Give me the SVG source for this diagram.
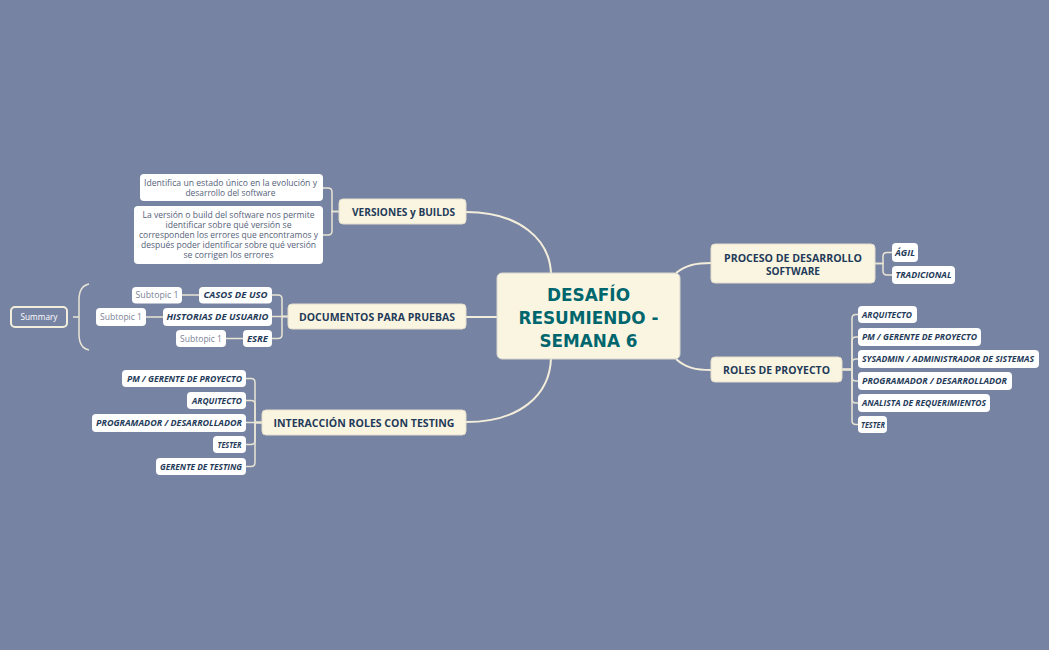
<svg xmlns="http://www.w3.org/2000/svg" width="1049" height="650" viewBox="0 0 1049 650">
<style>
.bg{fill:#7783a2}
.mainbox{fill:#faf5e1;stroke:#e4dfcc;stroke-width:1}
.centerbox{fill:#faf5e1;stroke:#d8d6d0;stroke-width:1}
.subbox{fill:#ffffff}
.mt{font-family:"Open Sans","Liberation Sans",sans-serif;font-weight:bold;font-size:11px;fill:#1f3b59;text-anchor:middle}
.ct{font-family:"DejaVu Sans","Open Sans",sans-serif;font-weight:bold;font-size:17px;fill:#00666e;text-anchor:middle}
.st{font-family:"Open Sans","Liberation Sans",sans-serif;font-weight:bold;font-style:italic;font-size:8.8px;fill:#1f3b59;text-anchor:middle}
.nt{font-family:"Open Sans","Liberation Sans",sans-serif;font-size:8.5px;fill:#56627a;text-anchor:middle}
.sp{font-family:"Open Sans","Liberation Sans",sans-serif;font-size:8.5px;fill:#7a8295;text-anchor:middle}
.conn{fill:none;stroke:#f3eedb;stroke-width:2}
.br{fill:none;stroke:#e9e5d6;stroke-width:1.5}
</style>
<rect class="bg" x="0" y="0" width="1049" height="650"/>

<g id="connectors">
  <path class="conn" d="M466,212 C520,212 550,240 551,274"/>
  <path class="conn" d="M466,317 H498"/>
  <path class="conn" d="M466,422 C520,422 550,395 551,358"/>
  <path class="conn" d="M676,273 C686,265 696,263 711,263"/>
  <path class="conn" d="M676,359 C686,368 696,370 711,370"/>
  <path class="br" d="M339,211.5 H332 V192 Q332,188 328,188 H323"/>
  <path class="br" d="M339,211.5 H332 V231 Q332,235 328,235 H323"/>
  <path class="br" d="M288,316.5 H282 V299 Q282,295 278,295 H272"/>
  <path class="br" d="M288,316.5 H272"/>
  <path class="br" d="M288,316.5 H282 V334.5 Q282,338.5 278,338.5 H272"/>
  <path class="br" d="M199,295 H182"/>
  <path class="br" d="M163,317 H146"/>
  <path class="br" d="M243,338.5 H226"/>
  <path class="br" d="M89,284 Q79,286 79,300 V334 Q79,348 89,350"/>
  <path class="br" d="M73,317 H79"/>
  <path class="br" d="M262,422.5 H255 V382.5 Q255,378.5 251,378.5 H246"/>
  <path class="br" d="M262,422.5 H255 V404.5 Q255,400.5 251,400.5 H246"/>
  <path class="br" d="M262,422.5 H246"/>
  <path class="br" d="M262,422.5 H255 V440.5 Q255,444.5 251,444.5 H246"/>
  <path class="br" d="M262,422.5 H255 V462.5 Q255,466.5 251,466.5 H246"/>
  <path class="br" d="M875,263.5 H883 V256.5 Q883,252.5 887,252.5 H892"/>
  <path class="br" d="M875,263.5 H883 V271 Q883,275 887,275 H892"/>
  <path class="br" d="M842,369.5 H852 V318.5 Q852,314.5 856,314.5 H858"/>
  <path class="br" d="M842,369.5 H852 V341 Q852,337 856,337 H858"/>
  <path class="br" d="M842,369.5 H852 V363 Q852,359 856,359 H858"/>
  <path class="br" d="M842,369.5 H852 V377 Q852,381 856,381 H858"/>
  <path class="br" d="M842,369.5 H852 V399 Q852,403 856,403 H858"/>
  <path class="br" d="M842,369.5 H852 V420.5 Q852,424.5 856,424.5 H858"/>
</g>

<g id="central">
  <rect class="centerbox" x="497" y="273" width="183" height="86" rx="5"/>
  <text class="ct" x="588.5" y="301" textLength="83" lengthAdjust="spacingAndGlyphs">DESAFÍO</text>
  <text class="ct" x="588.5" y="324" textLength="140" lengthAdjust="spacingAndGlyphs">RESUMIENDO -</text>
  <text class="ct" x="588.5" y="347" textLength="98" lengthAdjust="spacingAndGlyphs">SEMANA 6</text>
</g>

<g id="versiones">
  <rect class="mainbox" x="339" y="199" width="127" height="25" rx="4"/>
  <text class="mt" x="403.5" y="215.5" textLength="103" lengthAdjust="spacingAndGlyphs">VERSIONES y BUILDS</text>
</g>
<g id="nota1">
  <rect class="subbox" x="140" y="174" width="183" height="27" rx="4"/>
  <text class="nt" x="230.5" y="186" textLength="173" lengthAdjust="spacingAndGlyphs">Identifica un estado único en la evolución y</text>
  <text class="nt" x="230.5" y="195.5" textLength="90" lengthAdjust="spacingAndGlyphs">desarrollo del software</text>
</g>
<g id="nota2">
  <rect class="subbox" x="134" y="206" width="189" height="58" rx="4"/>
  <text class="nt" x="228.5" y="218" textLength="172" lengthAdjust="spacingAndGlyphs">La versión o build del software nos permite</text>
  <text class="nt" x="228.5" y="228" textLength="126" lengthAdjust="spacingAndGlyphs">identificar sobre qué versión se</text>
  <text class="nt" x="228.5" y="238" textLength="179" lengthAdjust="spacingAndGlyphs">corresponden los errores que encontramos y</text>
  <text class="nt" x="228.5" y="248" textLength="175" lengthAdjust="spacingAndGlyphs">después poder identificar sobre qué versión</text>
  <text class="nt" x="228.5" y="257.5" textLength="90" lengthAdjust="spacingAndGlyphs">se corrigen los errores</text>
</g>

<g id="documentos">
  <rect class="mainbox" x="288" y="304" width="178" height="25" rx="4"/>
  <text class="mt" x="377" y="320.5" textLength="156" lengthAdjust="spacingAndGlyphs">DOCUMENTOS PARA PRUEBAS</text>
</g>
<g id="casos">
  <rect class="subbox" x="199" y="287" width="73" height="16.5" rx="4"/>
  <text class="st" x="235.5" y="298.3" textLength="64" lengthAdjust="spacingAndGlyphs">CASOS DE USO</text>
</g>
<g id="historias">
  <rect class="subbox" x="163" y="308" width="109" height="18" rx="4"/>
  <text class="st" x="217.5" y="320" textLength="102" lengthAdjust="spacingAndGlyphs">HISTORIAS DE USUARIO</text>
</g>
<g id="esre">
  <rect class="subbox" x="243" y="330" width="29" height="17" rx="4"/>
  <text class="st" x="257.5" y="341.8" textLength="21" lengthAdjust="spacingAndGlyphs">ESRE</text>
</g>
<g id="sub1a">
  <rect class="subbox" x="132" y="287" width="50" height="16.5" rx="4"/>
  <text class="sp" x="157" y="298.3" textLength="43" lengthAdjust="spacingAndGlyphs">Subtopic 1</text>
</g>
<g id="sub1b">
  <rect class="subbox" x="96" y="308" width="50" height="18" rx="4"/>
  <text class="sp" x="121" y="320" textLength="42" lengthAdjust="spacingAndGlyphs">Subtopic 1</text>
</g>
<g id="sub1c">
  <rect class="subbox" x="176" y="330" width="50" height="17" rx="4"/>
  <text class="sp" x="201" y="341.8" textLength="42" lengthAdjust="spacingAndGlyphs">Subtopic 1</text>
</g>
<g id="summary">
  <rect x="11" y="307" width="56" height="20" rx="4" fill="#7783a2" stroke="#f3eedb" stroke-width="2"/>
  <text x="39" y="320" font-family="Open Sans, Liberation Sans, sans-serif" font-size="8.5" fill="#ffffff" text-anchor="middle" textLength="37" lengthAdjust="spacingAndGlyphs">Summary</text>
</g>

<g id="interaccion">
  <rect class="mainbox" x="262" y="410" width="204" height="25" rx="4"/>
  <text class="mt" x="364" y="426.5" textLength="181" lengthAdjust="spacingAndGlyphs">INTERACCIÓN ROLES CON TESTING</text>
</g>
<g id="i-pm">
  <rect class="subbox" x="122" y="370" width="124" height="17" rx="4"/>
  <text class="st" x="184.5" y="381.5" textLength="115" lengthAdjust="spacingAndGlyphs">PM / GERENTE DE PROYECTO</text>
</g>
<g id="i-arq">
  <rect class="subbox" x="187" y="392" width="59" height="17" rx="4"/>
  <text class="st" x="217" y="403.5" textLength="50" lengthAdjust="spacingAndGlyphs">ARQUITECTO</text>
</g>
<g id="i-prog">
  <rect class="subbox" x="92" y="414" width="154" height="18" rx="4"/>
  <text class="st" x="169" y="426" textLength="146" lengthAdjust="spacingAndGlyphs">PROGRAMADOR / DESARROLLADOR</text>
</g>
<g id="i-tester">
  <rect class="subbox" x="213" y="436" width="33" height="17" rx="4"/>
  <text class="st" x="229.5" y="447.5" textLength="24" lengthAdjust="spacingAndGlyphs">TESTER</text>
</g>
<g id="i-gerente">
  <rect class="subbox" x="156" y="458" width="90" height="17" rx="4"/>
  <text class="st" x="201" y="469.5" textLength="82" lengthAdjust="spacingAndGlyphs">GERENTE DE TESTING</text>
</g>

<g id="proceso">
  <rect class="mainbox" x="711" y="244" width="164" height="39" rx="4"/>
  <text class="mt" x="793" y="261.5" textLength="138" lengthAdjust="spacingAndGlyphs">PROCESO DE DESARROLLO</text>
  <text class="mt" x="793" y="274.5" textLength="54" lengthAdjust="spacingAndGlyphs">SOFTWARE</text>
</g>
<g id="agil">
  <rect class="subbox" x="892" y="243" width="26" height="19" rx="4"/>
  <text class="st" x="905" y="255.5" textLength="20" lengthAdjust="spacingAndGlyphs">ÁGIL</text>
</g>
<g id="tradicional">
  <rect class="subbox" x="892" y="266" width="63" height="18" rx="4"/>
  <text class="st" x="923.5" y="278" textLength="56" lengthAdjust="spacingAndGlyphs">TRADICIONAL</text>
</g>

<g id="roles">
  <rect class="mainbox" x="711" y="357" width="131" height="25" rx="4"/>
  <text class="mt" x="776.5" y="373.5" textLength="107" lengthAdjust="spacingAndGlyphs">ROLES DE PROYECTO</text>
</g>
<g id="r-arq">
  <rect class="subbox" x="858" y="306" width="59" height="17" rx="4"/>
  <text class="st" x="887" y="317.5" textLength="50" lengthAdjust="spacingAndGlyphs">ARQUITECTO</text>
</g>
<g id="r-pm">
  <rect class="subbox" x="858" y="328" width="123" height="18" rx="4"/>
  <text class="st" x="919.5" y="340" textLength="115" lengthAdjust="spacingAndGlyphs">PM / GERENTE DE PROYECTO</text>
</g>
<g id="r-sys">
  <rect class="subbox" x="858" y="350" width="181" height="18" rx="4"/>
  <text class="st" x="948" y="362" textLength="172" lengthAdjust="spacingAndGlyphs">SYSADMIN / ADMINISTRADOR DE SISTEMAS</text>
</g>
<g id="r-prog">
  <rect class="subbox" x="858" y="372" width="154" height="18" rx="4"/>
  <text class="st" x="934.5" y="384" textLength="145" lengthAdjust="spacingAndGlyphs">PROGRAMADOR / DESARROLLADOR</text>
</g>
<g id="r-anal">
  <rect class="subbox" x="858" y="394" width="132" height="18" rx="4"/>
  <text class="st" x="924" y="406" textLength="124" lengthAdjust="spacingAndGlyphs">ANALISTA DE REQUERIMIENTOS</text>
</g>
<g id="r-tester">
  <rect class="subbox" x="858" y="416" width="29" height="17" rx="4"/>
  <text class="st" x="873" y="427.5" textLength="24" lengthAdjust="spacingAndGlyphs">TESTER</text>
</g>
</svg>
